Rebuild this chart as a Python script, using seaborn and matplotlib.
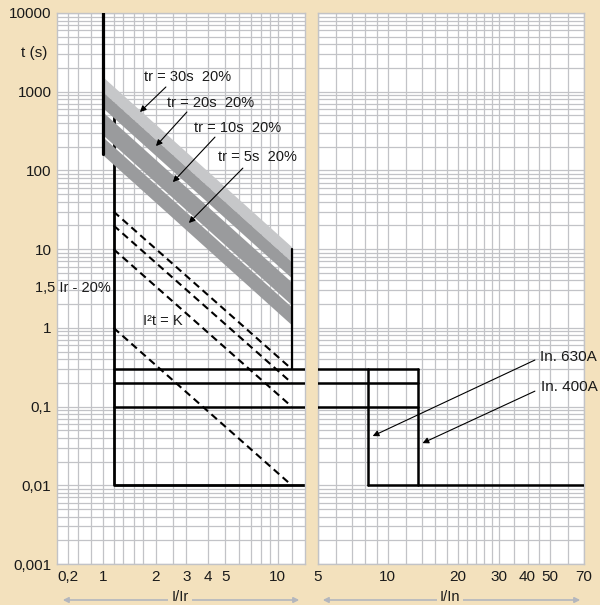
import numpy as np
import matplotlib.pyplot as plt
import seaborn as sns
from matplotlib.patches import FancyArrowPatch
from matplotlib.ticker import FixedLocator, FixedFormatter, LogLocator, NullFormatter

# long-time bands: t (s) on upper / lower edge at I/Ir = 1 and at I/Ir = 12
band_labels = ["tr = 30s  20%", "tr = 20s  20%", "tr = 10s  20%", "tr = 5s  20%"]
band_x = [1.0, 12.0]
band_top_start = [1540, 990, 550, 265]
band_bot_start = [990, 620, 282, 157]
band_top_end = [10.7, 6.9, 3.8, 1.84]
band_bot_end = [6.9, 4.3, 1.96, 1.09]

# I2t = K slopes, from I/Ir = 1.15 to 12
i2t_x = [1.15, 12.0]
i2t_start = [30, 20, 10, 1]
i2t_end = [0.3, 0.2, 0.1, 0.01]

# short-time delays and instantaneous time (s)
sd_times = [0.3, 0.2, 0.1]
inst_time = 0.01

# long-time pickup lines (I/Ir)
lt_pickup = [1.0, 1.15]
lt_pickup_top = [10000, 550]
lt_pickup_bottom = [160, inst_time]
lt_end_x = 12.0
lt_end_t = [10, 0.3]

# instantaneous pickup (I/In) per rating
in_labels = ["In. 630A", "In. 400A"]
in_pickup = [8.2, 13.5]

y_ticks = [0.001, 0.01, 0.1, 1, 10, 100, 1000, 10000]
y_labels = ["0,001", "0,01", "0,1", "1", "10", "100", "1000", "10000"]
xl_ticks = [0.63, 1, 2, 3, 4, 5, 10]
xl_labels = ["0,2", "1", "2", "3", "4", "5", "10"]
xr_ticks = [5, 10, 20, 30, 40, 50, 70]
xr_labels = ["5", "10", "20", "30", "40", "50", "70"]

BEIGE = "#f3e1bd"
GRID = "#c2c3c7"
LIGHT = "#c6c7c9"
DARK = "#9a9b9d"

sns.set_theme(style="white")
plt.rcParams["font.family"] = ["Liberation Sans", "DejaVu Sans"]

fig = plt.figure(figsize=(6, 6.05), dpi=100, facecolor=BEIGE)
axl = fig.add_axes([57 / 600, 1 - 564 / 605, 248 / 600, 551 / 605])
axr = fig.add_axes([318 / 600, 1 - 564 / 605, 266 / 600, 551 / 605])

for ax in (axl, axr):
    ax.set_xscale("log")
    ax.set_yscale("log")
    ax.set_facecolor("white")


def line(ax, x, y, lw=2.0, z=4, **kw):
    sns.lineplot(x=x, y=y, ax=ax, color="black", lw=lw, estimator=None,
                 sort=False, errorbar=None, zorder=z, **kw)


# ---- left panel: I/Ir ----
band_colors = [LIGHT, DARK, DARK, DARK]
for i in range(len(band_labels)):
    axl.fill_between(band_x, [band_bot_start[i], band_bot_end[i]],
                     [band_top_start[i], band_top_end[i]],
                     color=band_colors[i], lw=0, zorder=3)

line(axl, [lt_pickup[0]] * 2, [lt_pickup_top[0], lt_pickup_bottom[0]], lw=2.3)
line(axl, [lt_pickup[1], lt_pickup[1], 30], [lt_pickup_top[1], lt_pickup_bottom[1], inst_time], z=2)
for t in sd_times:
    line(axl, [lt_pickup[1], 30], [t, t], lw=1.8)
line(axl, [lt_end_x] * 2, lt_end_t, lw=1.6)
for s, e in zip(i2t_start, i2t_end):
    line(axl, i2t_x, [s, e], lw=1.5, linestyle=(0, (3.5, 2.2)))

# ---- right panel: I/In ----
for t in sd_times:
    line(axr, [1, in_pickup[1]], [t, t], lw=1.8)
for p in in_pickup:
    line(axr, [p, p], [sd_times[0], inst_time], lw=1.8)
line(axr, [in_pickup[0], 200], [inst_time, inst_time], lw=1.8)

axl.set_xlim(0.546, 14.3)
axr.set_xlim(5, 70)

for ax in (axl, axr):
    ax.set_ylim(0.001, 10000)
    ax.yaxis.set_major_locator(FixedLocator(y_ticks))
    ax.yaxis.set_major_formatter(FixedFormatter(y_labels))
    ax.yaxis.set_minor_locator(LogLocator(base=10, subs=np.arange(2, 10), numticks=100))
    ax.yaxis.set_minor_formatter(NullFormatter())
    ax.xaxis.set_minor_formatter(NullFormatter())
    ax.grid(True, which="both", color=GRID, lw=0.9)
    ax.set_axisbelow(True)
    ax.tick_params(which="both", length=0, labelsize=11, colors="#1a1a1a", pad=4)
    for sp in ax.spines.values():
        sp.set_color(GRID)
        sp.set_linewidth(1)
    ax.set_xlabel("")
    ax.set_ylabel("")

axl.xaxis.set_major_locator(FixedLocator(xl_ticks))
axl.xaxis.set_major_formatter(FixedFormatter(xl_labels))
axl.xaxis.set_minor_locator(FixedLocator([0.72, 0.85, 1.15, 1.3, 1.5, 1.7, 2.5, 6, 7, 8, 9, 12]))
axr.xaxis.set_major_locator(FixedLocator(xr_ticks))
axr.xaxis.set_major_formatter(FixedFormatter(xr_labels))
axr.xaxis.set_minor_locator(FixedLocator([6, 7, 8, 9, 12, 14, 16, 18, 22, 24, 26, 28, 35, 45, 60]))
axr.tick_params(axis="y", labelleft=False)

# ---- annotations ----
txt = dict(fontsize=10.5, color="#1a1a1a", va="center", clip_on=False)
band_text_pos = [(1.715, 1540), (2.32, 718), (3.31, 346), (4.54, 148)]
band_arrow_from = [(2.29, 1148), (3.02, 552), (4.37, 265), (6.31, 107)]
band_arrow_to = [(1.627, 552), (2.01, 204), (2.51, 71), (3.10, 21.5)]
arrow = dict(arrowstyle="-|>", color="black", lw=0.8, mutation_scale=9, shrinkA=0, shrinkB=0)
for lab, pos, a0, a1 in zip(band_labels, band_text_pos, band_arrow_from, band_arrow_to):
    axl.text(pos[0], pos[1], lab, ha="left", zorder=6, **txt)
    axl.annotate("", xy=a1, xytext=a0, arrowprops=arrow, zorder=6)

axl.text(1.69, 1.22, "I²t = K", ha="left", zorder=6, **txt)
axl.text(0.41, 3.2, "1,5 Ir - 20%", ha="left", zorder=6, **txt)
axl.text(0.479, 3100, "t (s)", ha="right", fontsize=11, color="#1a1a1a", va="center", clip_on=False)

in_text_pos = [(45.2, 0.426), (45.6, 0.177)]
in_arrow_from = [(43.0, 0.39), (43.0, 0.157)]
in_arrow_to = [(8.6, 0.0422), (14.1, 0.0343)]
for lab, pos, a0, a1 in zip(in_labels, in_text_pos, in_arrow_from, in_arrow_to):
    axr.text(pos[0], pos[1], lab, ha="left", fontsize=11, color="#1a1a1a", va="center", clip_on=False, zorder=6)
    axr.annotate("", xy=a1, xytext=a0, arrowprops=arrow, zorder=6, annotation_clip=False)

# axis captions with double arrows at the bottom
ya = 1 - 600 / 605
for x0, x1, xc, lab in [(60, 302, 180, "I/Ir"), (320, 583, 450, "I/In")]:
    fig.add_artist(FancyArrowPatch((x0 / 600, ya), (x1 / 600, ya), transform=fig.transFigure,
                                   arrowstyle="<|-|>", mutation_scale=8, color="#b3b6bd", lw=1.2))
    fig.text(xc / 600, 1 / 605, lab, ha="center", va="bottom", fontsize=10.5, color="#1a1a1a",
             bbox=dict(boxstyle="square,pad=0.2", fc=BEIGE, ec="none"))

fig.savefig("out.png", dpi=100, facecolor=BEIGE)
plt.close(fig)
